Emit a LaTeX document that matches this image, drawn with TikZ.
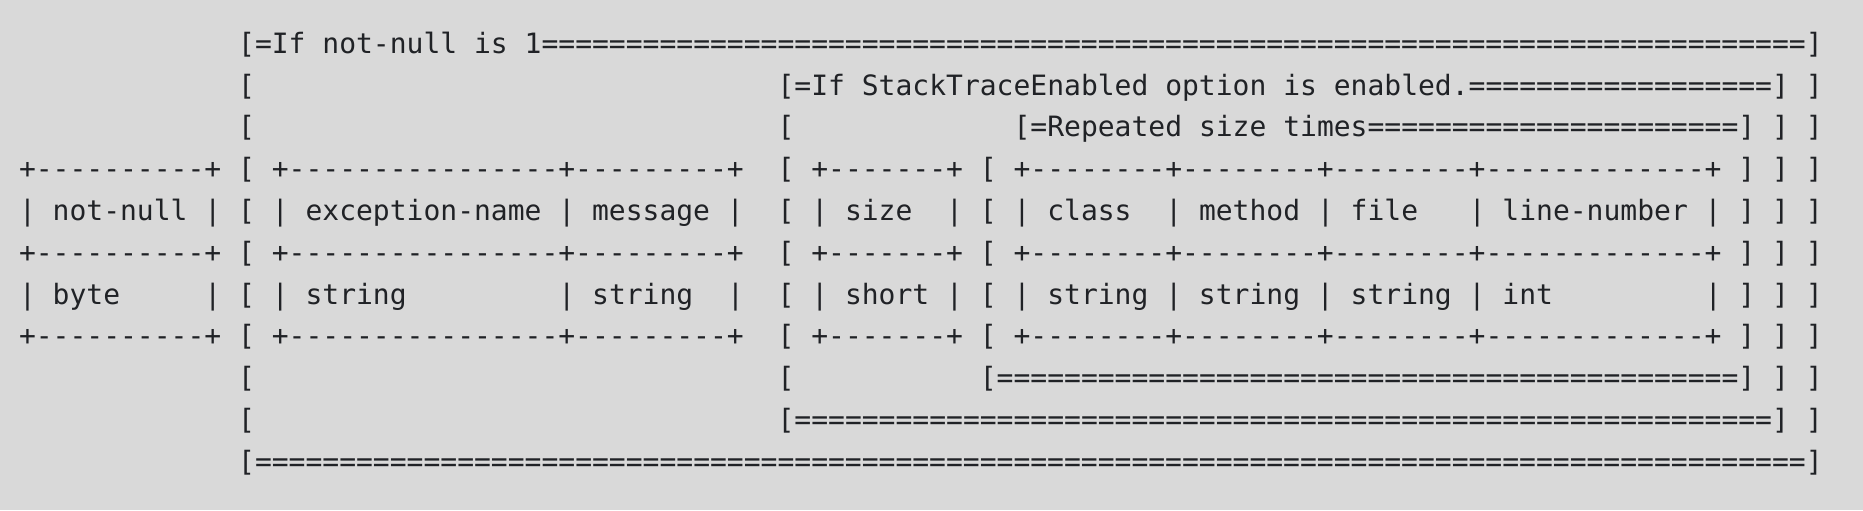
\documentclass[tikz,border=0pt]{standalone}
\usepackage{fontspec}
\setmonofont{DejaVu Sans Mono}
\frenchspacing

\definecolor{bgcol}{RGB}{217,217,217}
\definecolor{inkcol}{RGB}{32,34,38}

% runs of = and - for the ascii frames
\ExplSyntaxOn
\cs_new:Npn \eqrun #1 { \prg_replicate:nn {#1} {=} }
\cs_new:Npn \dashrun #1 { \prg_replicate:nn {#1} {-} }
\ExplSyntaxOff

\newcommand\boxrowl{+\dashrun{10}+ [ +\dashrun{16}+\dashrun{9}+}
\newcommand\boxrowr{[ +\dashrun{7}+ [ +\dashrun{8}+\dashrun{8}+\dashrun{8}+\dashrun{13}+ ] ] ]}

\begin{document}
\begin{tikzpicture}[%
	x=8.4287pt, y=-20.9pt,      % one unit = one character cell
	every node/.style={font=\ttfamily\fontsize{14}{16}\selectfont, text=inkcol},
	]
	% -------------------------------------------------
	% ascii cell style
	\tikzset{
		ascii/.style={anchor=base west, inner sep=0pt, outer sep=0pt},
	}

	\fill[bgcol] (-9.5pt,5.7pt) rectangle (922pt,-249.3pt);
	\useasboundingbox (-9.5pt,5.7pt) rectangle (922pt,-249.3pt);

	% -------------------------------------------------
	% outer frame head
	\node[ascii] (top)    at (13,1)  {[=If not-null is 1\eqrun{75}]};
	\node[ascii] (l2)     at (13,2)  {[};
	\node[ascii] (trace)  at (45,2)  {[=If StackTraceEnabled option is enabled.\eqrun{18}] ]};
	\node[ascii] (l3)     at (13,3)  {[};
	\node[ascii] (m3)     at (45,3)  {[};
	\node[ascii] (rep)    at (59,3)  {[=Repeated size times\eqrun{22}] ] ]};

	% box rules
	\foreach \r in {4,6,8} {
		\node[ascii] (rulel\r) at (0,\r)  {\boxrowl};
		\node[ascii] (ruler\r) at (45,\r) {\boxrowr};
	}

	% field names
	\node[ascii] (name1)  at (0,5)   {| not-null | [ | exception-name | message |};
	\node[ascii] (name2)  at (45,5)  {[ | size};
	\node[ascii] (name3)  at (55,5)  {| [ | class};
	\node[ascii] (name4)  at (68,5)  {| method | file};
	\node[ascii] (name5)  at (86,5)  {| line-number | ] ] ]};

	% field types
	\node[ascii] (type1)  at (0,7)   {| byte};
	\node[ascii] (type2)  at (11,7)  {| [ | string};
	\node[ascii] (type3)  at (32,7)  {| string};
	\node[ascii] (type4)  at (42,7)  {|};
	\node[ascii] (type5)  at (45,7)  {[ | short | [ | string | string | string | int};
	\node[ascii] (type6)  at (100,7) {| ] ] ]};

	% frame tails
	\node[ascii] (l9)     at (13,9)  {[};
	\node[ascii] (m9)     at (45,9)  {[};
	\node[ascii] (repend) at (57,9)  {[\eqrun{44}] ] ]};
	\node[ascii] (l10)    at (13,10) {[};
	\node[ascii] (traceend) at (45,10) {[\eqrun{58}] ]};
	\node[ascii] (bottom) at (13,11) {[\eqrun{92}]};

\end{tikzpicture}
\end{document}
